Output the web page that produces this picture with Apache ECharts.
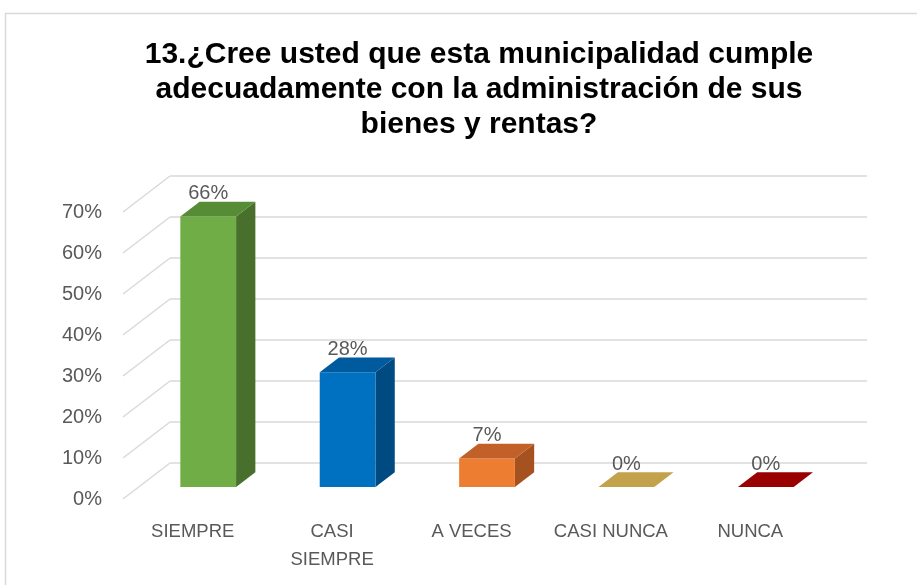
<!DOCTYPE html>
<html>
<head>
<meta charset="utf-8">
<script src="https://cdn.jsdelivr.net/npm/echarts@6/dist/echarts.min.js"></script>
<style>
  html, body { margin: 0; padding: 0; background: #fff; }
  #chart { width: 917px; height: 585px; }
</style>
</head>
<body>
<div id="chart"></div>
<script>
// Data
const categories = ['SIEMPRE', 'CASI\nSIEMPRE', 'A VECES', 'CASI NUNCA', 'NUNCA'];
const values = [0.66, 0.28, 0.07, 0, 0];
const valueLabels = ['66%', '28%', '7%', '0%', '0%'];
const yTicks = [0, 0.1, 0.2, 0.3, 0.4, 0.5, 0.6, 0.7];

// Face colours (front / top / side)
const frontColors = ['#70ad47', '#0070c0', '#ed7d31', '#c4a24c', '#990000'];
const topColors = ['#578c37', '#005a9e', '#c2602a', '#c4a24c', '#990000'];
const sideColors = ['#486f2c', '#004a82', '#a65220', '#a8883a', '#7a0000'];

// 3D projection: full depth runs from back wall to front floor
const DEPTH_X = -47, DEPTH_Y = 36;
const FRONT_D = 0.67, BACK_D = 0.26; // fraction of depth toward the viewer

const TEXT = '#595959';
const FONT = 'Liberation Sans, Arial, sans-serif';

const chart = echarts.init(document.getElementById('chart'));

function off(d) {
  return [DEPTH_X * d, DEPTH_Y * d];
}

chart.setOption({
  animation: false,
  title: {
    text: '13.¿Cree usted que esta municipalidad cumple\nadecuadamente con la administración de sus\nbienes y rentas?',
    left: 474,
    top: 32,
    textAlign: 'center',
    textStyle: {
      fontFamily: FONT,
      fontWeight: 'bold',
      fontSize: 30,
      lineHeight: 35,
      color: '#000'
    }
  },
  graphic: [{
    type: 'rect',
    silent: true,
    shape: { x: 5.5, y: 13.5, width: 1000, height: 1000 },
    style: { fill: 'none', stroke: '#d9d9d9', lineWidth: 1.5 },
    z: -1
  }],
  grid: [
    // back wall
    { left: 170, right: 50, top: 176, bottom: 122 },
    // front floor plane, carries the labels
    { left: 123, right: 97, top: 212, bottom: 86 }
  ],
  xAxis: [
    { gridIndex: 0, type: 'category', data: categories, axisLine: { show: false }, axisTick: { show: false }, axisLabel: { show: false } },
    {
      gridIndex: 1, type: 'category', data: categories,
      axisLine: { show: false }, axisTick: { show: false },
      axisLabel: { color: TEXT, fontFamily: FONT, fontSize: 18.5, lineHeight: 28, margin: 19, interval: 0 }
    }
  ],
  yAxis: [
    {
      gridIndex: 0, type: 'value', min: 0, max: 0.7, interval: 0.1,
      axisLabel: { show: false }, axisLine: { show: false }, axisTick: { show: false },
      splitLine: { lineStyle: { color: '#d9d9d9', width: 1.5 } }
    },
    {
      gridIndex: 1, type: 'value', min: 0, max: 0.7, interval: 0.1,
      axisLine: { show: false }, axisTick: { show: false }, splitLine: { show: false },
      axisLabel: {
        color: TEXT, fontFamily: FONT, fontSize: 20, margin: 21,
        formatter: v => Math.round(v * 100) + '%'
      }
    }
  ],
  series: [
    {
      // side-wall diagonals of the gridlines
      type: 'custom',
      xAxisIndex: 0,
      yAxisIndex: 0,
      silent: true,
      data: yTicks.map(v => [0, v]),
      renderItem: function (params, api) {
        const cs = params.coordSys;
        const p = api.coord([0, api.value(1)]);
        return {
          type: 'line',
          shape: { x1: cs.x, y1: p[1], x2: cs.x + DEPTH_X, y2: p[1] + DEPTH_Y },
          style: { stroke: '#d9d9d9', lineWidth: 1.5 }
        };
      },
      z: 1
    },
    {
      type: 'custom',
      xAxisIndex: 0,
      yAxisIndex: 0,
      data: values.map((v, i) => [i, v]),
      renderItem: function (params, api) {
        const i = params.dataIndex;
        const base = api.coord([api.value(0), 0]);
        const top = api.coord([api.value(0), api.value(1)]);
        const w = api.size([1, 0])[0] * 0.4;
        const f = off(FRONT_D), b = off(BACK_D);
        const fx0 = base[0] + f[0] - w / 2, fx1 = fx0 + w;
        const fyB = base[1] + f[1], fyT = top[1] + f[1];
        const bx0 = base[0] + b[0] - w / 2, bx1 = bx0 + w;
        const byB = base[1] + b[1], byT = top[1] + b[1];
        const children = [];
        if (fyB - fyT > 0.5) {
          children.push({
            type: 'polygon',
            shape: { points: [[fx1, fyT], [bx1, byT], [bx1, byB], [fx1, fyB]] },
            style: { fill: sideColors[i] }
          });
          children.push({
            type: 'rect',
            shape: { x: fx0, y: fyT, width: w, height: fyB - fyT },
            style: { fill: frontColors[i] }
          });
        }
        children.push({
          type: 'polygon',
          shape: { points: [[fx0, fyT], [fx1, fyT], [bx1, byT], [bx0, byT]] },
          style: { fill: topColors[i] }
        });
        children.push({
          type: 'text',
          style: {
            x: fx0 + w / 2,
            y: byT + 2,
            text: valueLabels[i],
            align: 'center',
            verticalAlign: 'bottom',
            fill: TEXT,
            font: '20px ' + FONT
          }
        });
        return { type: 'group', children: children };
      },
      z: 2
    }
  ]
});
</script>
</body>
</html>
